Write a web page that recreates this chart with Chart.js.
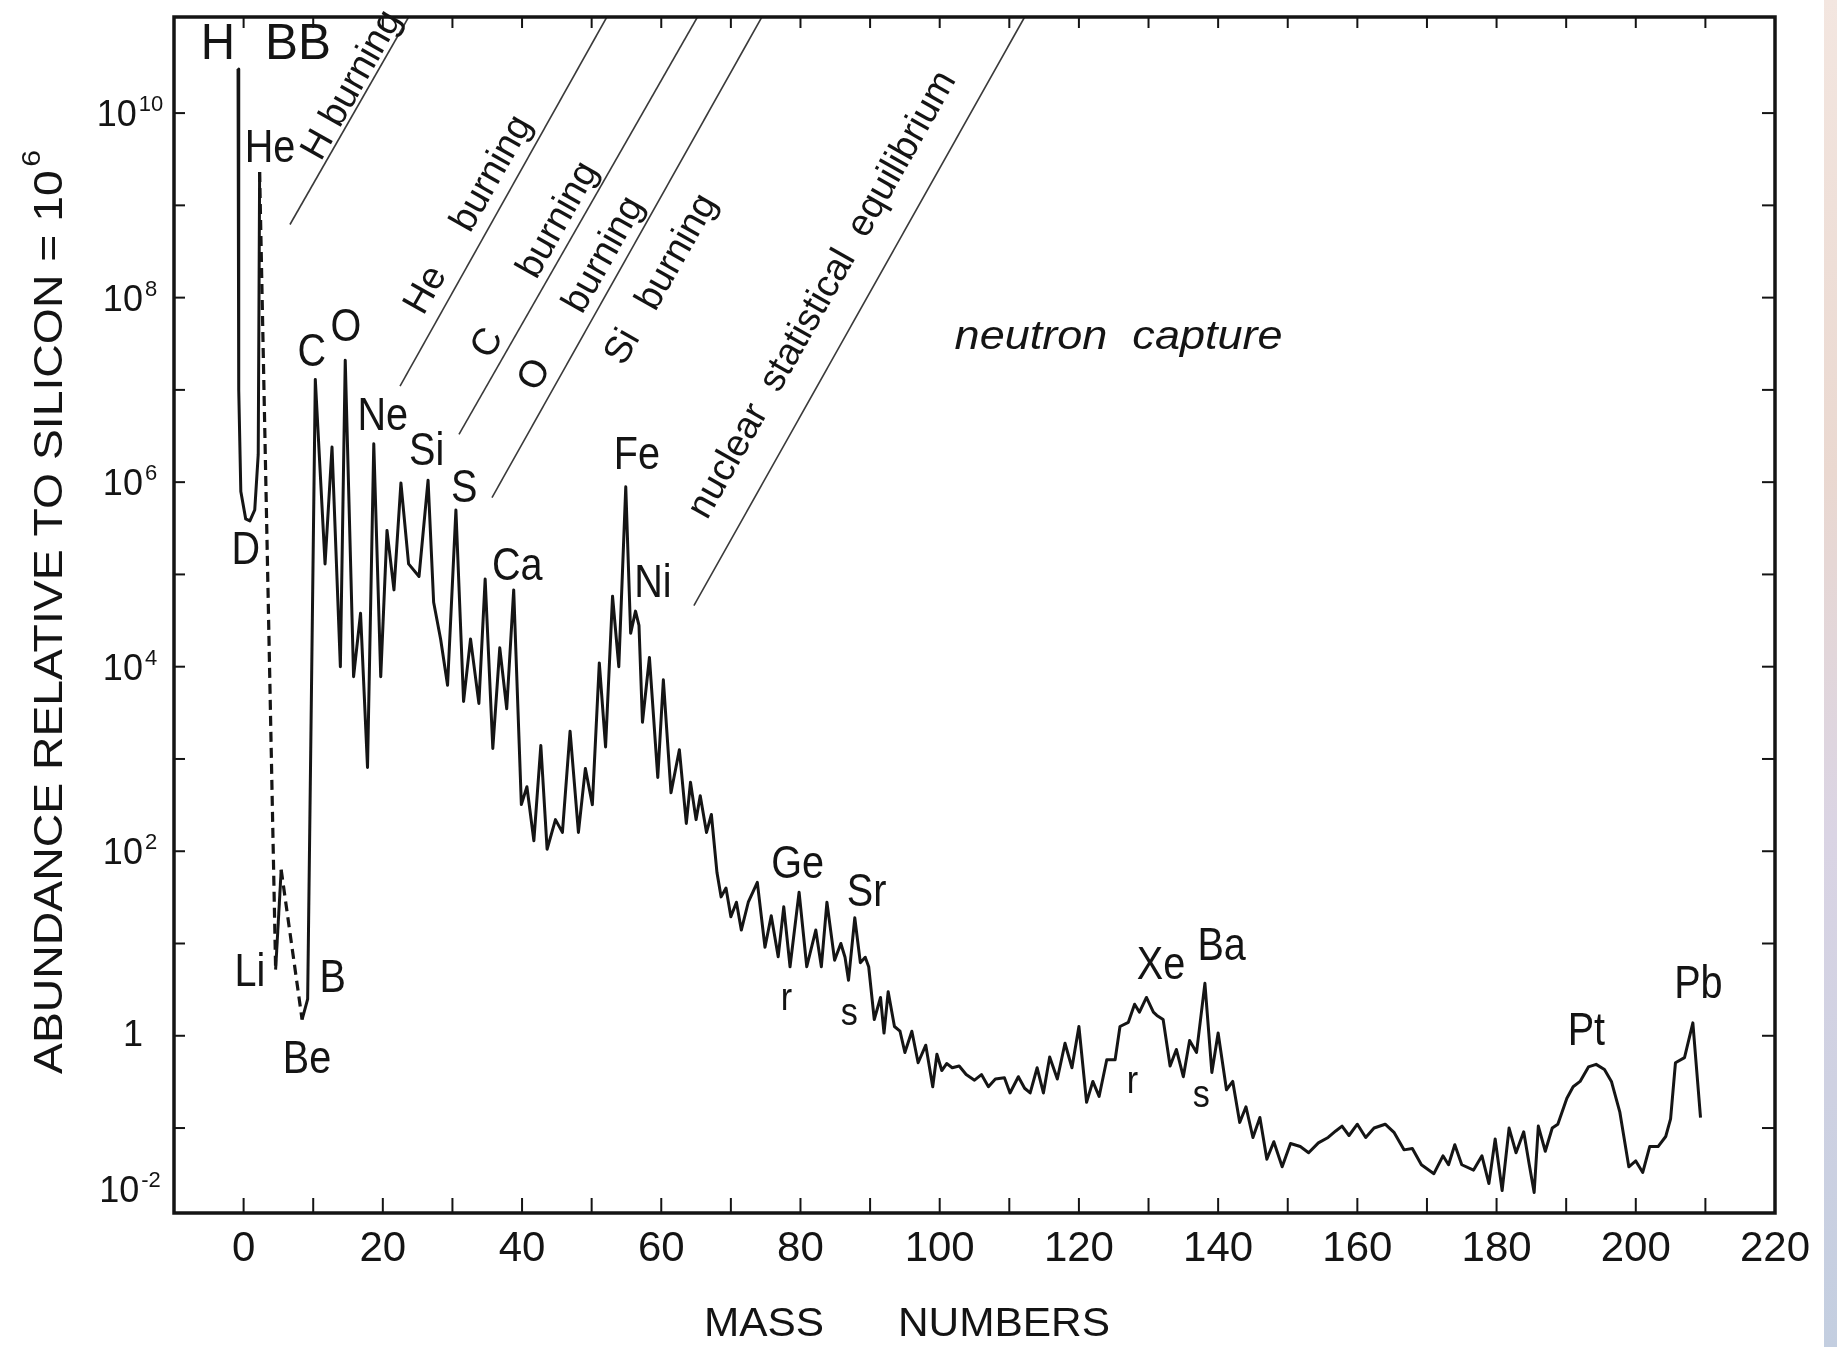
<!DOCTYPE html>
<html>
<head>
<meta charset="utf-8">
<script src="https://cdn.jsdelivr.net/npm/chart.js@4.4.1/dist/chart.umd.min.js"></script>
<style>
  html, body { margin: 0; padding: 0; background: #fff; }
  #wrap { position: relative; width: 1837px; height: 1347px; overflow: hidden; background: #fff; }
  #edge { position: absolute; left: 1824px; top: 0; width: 13px; height: 1347px;
          background: linear-gradient(#f3e6e0, #ead8d0 35%, #dad4e4 62%, #c3cee0); }
</style>
</head>
<body>
<div id="wrap">
  <canvas id="chart" width="1837" height="1347"></canvas>
  <div id="edge"></div>
</div>
<script>
// mass number (as placed in the figure) and abundance relative to Si = 1e6
const massNumbers = [
  -0.8, -0.7, -0.4, 0.3, 0.9, 1.6, 2.1, 2.3, 4.6, 5.4, 8.4, 9.2,
  10.3, 11.7, 12.7, 13.9, 14.6, 15.8, 16.8, 17.8, 18.7, 19.7, 20.6, 21.6, 22.6, 23.7, 25.2,
  26.5, 27.3, 28.3, 29.3, 30.5, 31.6, 32.6, 33.8, 34.7, 35.8, 36.8, 37.8, 38.8, 39.9, 40.7,
  41.7, 42.7, 43.6, 44.8, 45.8, 46.9, 48.1, 49.1, 50.1, 51.1, 52.0, 53.0, 53.9, 54.9, 55.6,
  56.3, 56.8, 57.3, 58.3, 59.5, 60.3, 61.4, 62.6, 63.6, 64.2, 65.0, 65.6, 66.5, 67.2, 68.0,
  68.6, 69.3, 70.0, 70.8, 71.5, 72.5, 73.8, 74.9, 75.8, 76.8, 77.6, 78.5, 79.8, 80.9, 82.2,
  83.0, 83.8, 84.9, 85.8, 86.4, 86.9, 87.8, 88.6, 89.3, 89.8, 90.6, 91.5, 92.0, 92.6, 93.5,
  94.3, 95.0, 96.0, 96.9, 98.0, 99.0, 99.6, 100.3, 101.0, 101.8, 102.8, 103.8, 105.0, 106.0,
  107.0, 108.0, 109.3, 110.1, 111.3, 112.2, 113.0, 114.0, 114.9, 115.8, 116.9, 118.0, 119.0,
  120.0, 121.1, 122.0, 122.9, 124.0, 125.2, 125.9, 127.1, 128.0, 128.7, 129.7, 130.7, 131.2,
  132.1, 133.1, 134.0, 135.0, 135.9, 136.9, 138.1, 139.1, 140.0, 141.2, 142.1, 143.1, 144.0,
  145.0, 146.0, 147.0, 148.0, 149.2, 150.4, 151.8, 153.0, 154.4, 155.8, 156.9, 157.8, 158.8,
  160.0, 161.2, 162.4, 164.0, 165.3, 166.7, 167.9, 169.2, 171.0, 172.3, 173.1, 174.0, 175.0,
  176.7, 177.9, 178.9, 179.8, 180.8, 181.8, 182.8, 183.9, 184.7, 185.4, 186.0, 187.0, 188.0,
  188.8, 190.1, 191.0, 192.0, 193.2, 194.3, 195.5, 196.5, 197.7, 199.0, 200.0, 201.0, 202.0,
  203.2, 204.3, 205.0, 205.7, 207.0, 208.2, 209.3
];
const abundances = [
  3.0e10, 1.0e7, 7.9e5, 4.0e5, 3.8e5, 5.0e5, 2.0e6, 2.3e9, 5.2, 63, 1.5, 2.5,
  1.3e7, 1.3e5, 2.4e6, 1.0e4, 2.1e7, 7.8e3, 3.8e4, 810, 2.6e6, 7.8e3, 3.0e5, 6.8e4, 9.8e5, 1.3e5, 9.5e4,
  1.05e6, 5.0e4, 2.0e4, 6.3e3, 5.0e5, 4.2e3, 2.0e4, 4.0e3, 8.9e4, 1.3e3, 1.6e4, 3.5e3, 6.8e4, 320, 500,
  130, 1.4e3, 105, 220, 160, 2.0e3, 160, 790, 320, 1.1e4, 1.35e3, 5.8e4, 1.0e4, 8.9e5, 2.3e4,
  4.0e4, 2.8e4, 2.5e3, 1.26e4, 630, 7.2e3, 430, 1.26e3, 200, 560, 220, 400, 160, 250, 59,
  32, 40, 19.5, 28, 14, 28, 46, 9.1, 20, 7.2, 25, 5.6, 36, 5.6, 14,
  5.6, 28, 6.6, 10, 7.1, 4.0, 19, 6.2, 7.1, 5.6, 1.5, 2.6, 1.07, 3.0, 1.26,
  1.12, 0.66, 1.12, 0.51, 0.79, 0.28, 0.63, 0.42, 0.5, 0.45, 0.47, 0.38, 0.33, 0.38,
  0.28, 0.34, 0.35, 0.24, 0.36, 0.27, 0.24, 0.45, 0.24, 0.59, 0.34, 0.83, 0.45,
  1.26, 0.19, 0.32, 0.22, 0.55, 0.55, 1.26, 1.4, 2.2, 1.8, 2.6, 1.8, 1.66,
  1.5, 0.47, 0.71, 0.36, 0.89, 0.66, 3.7, 0.40, 1.07, 0.26, 0.32, 0.115, 0.17,
  0.079, 0.13, 0.046, 0.071, 0.038, 0.068, 0.063, 0.054, 0.069, 0.079, 0.093, 0.105, 0.083,
  0.11, 0.079, 0.10, 0.11, 0.089, 0.058, 0.060, 0.040, 0.032, 0.050, 0.040, 0.066, 0.040,
  0.035, 0.050, 0.025, 0.076, 0.021, 0.10, 0.054, 0.091, 0.040, 0.020, 0.105, 0.056, 0.10,
  0.11, 0.21, 0.28, 0.32, 0.46, 0.49, 0.43, 0.32, 0.15, 0.038, 0.044, 0.033, 0.063,
  0.063, 0.081, 0.126, 0.51, 0.58, 1.38, 0.13
];
// stretches of the curve drawn dashed (He -> Li, Li -> Be)
const dashedSpans = [[2.3, 4.6], [5.4, 8.4]];

// axis ticks and labels
const xTickValues = [0, 10, 20, 30, 40, 50, 60, 70, 80, 90, 100, 110, 120, 130, 140, 150, 160, 170, 180, 190, 200, 210];
const xLabelValues = [0, 20, 40, 60, 80, 100, 120, 140, 160, 180, 200, 220];
const yTickExponents = [-1, 0, 1, 2, 3, 4, 5, 6, 7, 8, 9, 10];
const yLabelExponents = [10, 8, 6, 4, 2, 0, -2];

// burning-stage boundary lines (start point, they run up to the top of the frame)
const burnStartMass = [6.66, 22.47, 30.94, 35.68, 64.69];
const burnStartAbund = [6.2e8, 1.1e7, 3.3e6, 6.8e5, 4.6e4];
const burnEndMass = [23.71, 52.18, 65.2, 74.45, 112.2];

// rotated process labels
const processText = ['H burning', 'He', 'burning', 'C', 'burning', 'O', 'burning', 'Si', 'burning', 'nuclear  statistical  equilibrium'];
const processMass = [15.6, 26.2, 35.7, 35.1, 45.2, 41.9, 51.8, 54.5, 62.3, 83.2];
const processAbund = [2.0e10, 1.2e8, 2.2e9, 3.2e7, 6.9e8, 1.45e7, 2.9e8, 2.9e7, 3.1e8, 1.07e8];

// element labels
const elementLabels = ['H', 'BB', 'He', 'D', 'Li', 'Be', 'B', 'C', 'O', 'Ne', 'Si', 'S', 'Ca', 'Fe', 'Ni', 'Ge', 'Sr', 'r', 's', 'Xe', 'Ba', 'r', 's', 'Pt', 'Pb'];
const labelMass = [-3.7, 7.8, 3.8, 0.3, 0.9, 9.1, 12.8, 9.8, 14.7, 20.0, 26.3, 31.7, 39.3, 56.5, 58.8, 79.6, 89.5, 78.0, 87.0, 131.8, 140.5, 127.7, 137.6, 192.9, 209.0];
const labelAbund = [5.4e10, 5.5e10, 4.1e9, 1.8e5, 4.8, 0.54, 4.1, 2.5e7, 4.7e7, 5.0e6, 2.1e6, 8.3e5, 1.2e5, 1.9e6, 7.8e4, 71, 35, 2.5, 1.7, 5.6, 9.1, 0.31, 0.22, 1.1, 3.5];

const FONT = "'Liberation Sans', Arial, Helvetica, sans-serif";
const INK = '#141414';
const LINE_ANGLE = -60.5 * Math.PI / 180;

function inDashedSpan(a, b) {
  return dashedSpans.some(s => a >= s[0] - 1e-6 && b <= s[1] + 1e-6);
}

function drawText(ctx, text, x, y, size, opts) {
  opts = opts || {};
  ctx.save();
  ctx.translate(x, y);
  if (opts.angle) ctx.rotate(opts.angle);
  ctx.font = (opts.italic ? 'italic ' : '') + size + 'px ' + FONT;
  let sx = opts.sx || 1;
  if (opts.width) sx = opts.width / ctx.measureText(text).width;
  ctx.scale(sx, 1);
  ctx.textAlign = 'center';
  ctx.textBaseline = 'middle';
  ctx.fillStyle = INK;
  ctx.fillText(text, 0, 0);
  ctx.restore();
}

function seg(ctx, x1, y1, x2, y2) {
  ctx.beginPath();
  ctx.moveTo(x1, y1);
  ctx.lineTo(x2, y2);
  ctx.stroke();
}

const decorations = {
  id: 'decorations',
  afterDraw(chart) {
    const ctx = chart.ctx;
    const xs = chart.scales.x, ys = chart.scales.y, a = chart.chartArea;
    ctx.save();
    ctx.strokeStyle = INK;

    // inward tick marks on all four sides
    ctx.lineWidth = 2;
    xTickValues.forEach(v => {
      const px = xs.getPixelForValue(v);
      seg(ctx, px, a.bottom, px, a.bottom - 15);
      seg(ctx, px, a.top, px, a.top + 11);
    });
    yTickExponents.forEach(e => {
      const py = ys.getPixelForValue(Math.pow(10, e));
      seg(ctx, a.left, py, a.left + 11, py);
      seg(ctx, a.right, py, a.right - 13, py);
    });

    // frame
    ctx.lineWidth = 3.5;
    ctx.strokeRect(a.left, a.top, a.right - a.left, a.bottom - a.top);

    // x tick labels
    xLabelValues.forEach(v => {
      drawText(ctx, String(v), xs.getPixelForValue(v), a.bottom + 36, 42);
    });

    // y tick labels with superscript exponent
    ctx.fillStyle = INK;
    ctx.textBaseline = 'alphabetic';
    ctx.textAlign = 'left';
    yLabelExponents.forEach(e => {
      let py = ys.getPixelForValue(Math.pow(10, e));
      if (py > a.bottom) py = a.bottom - 24;
      if (e === 0) {
        drawText(ctx, '1', 133, py, 36);
        return;
      }
      ctx.font = '36px ' + FONT;
      const wb = ctx.measureText('10').width;
      ctx.font = '22px ' + FONT;
      const exp = String(e);
      const we = ctx.measureText(exp).width;
      const x0 = 130 - (wb + we + 2) / 2;
      ctx.font = '36px ' + FONT;
      ctx.fillText('10', x0, py + 13);
      ctx.font = '22px ' + FONT;
      ctx.fillText(exp, x0 + wb + 2, py - 2);
    });

    // axis titles
    ctx.save();
    ctx.translate(48, 612);
    ctx.rotate(-Math.PI / 2);
    const main = 'ABUNDANCE RELATIVE TO SILICON = 10';
    ctx.font = '40px ' + FONT;
    const wm = ctx.measureText(main).width;
    ctx.font = '26px ' + FONT;
    const ws = ctx.measureText('6').width;
    const total = wm + ws + 3;
    ctx.scale(924 / total, 1);
    ctx.textAlign = 'left';
    ctx.textBaseline = 'alphabetic';
    ctx.fillStyle = INK;
    ctx.font = '40px ' + FONT;
    ctx.fillText(main, -total / 2, 14);
    ctx.font = '26px ' + FONT;
    ctx.fillText('6', -total / 2 + wm + 3, -8);
    ctx.restore();

    drawText(ctx, 'MASS', 764, 1325, 40, { width: 120 });
    drawText(ctx, 'NUMBERS', 1004, 1325, 40, { width: 212 });

    // rotated process labels
    processText.forEach((t, i) => {
      const px = xs.getPixelForValue(processMass[i]);
      const py = ys.getPixelForValue(processAbund[i]);
      drawText(ctx, t, px, py, 38, { angle: LINE_ANGLE });
    });
    drawText(ctx, 'neutron  capture', xs.getPixelForValue(125.7), ys.getPixelForValue(3.7e7), 40, { italic: true, width: 328 });

    // element labels
    elementLabels.forEach((t, i) => {
      const px = xs.getPixelForValue(labelMass[i]);
      const py = ys.getPixelForValue(labelAbund[i]);
      if (t === 'r' || t === 's') drawText(ctx, t, px, py, 38, { sx: 0.9 });
      else if (t === 'H') drawText(ctx, t, px, py, 50, { sx: 0.95 });
      else if (t === 'BB') drawText(ctx, t, px, py, 50, { width: 66 });
      else drawText(ctx, t, px, py, 46, { sx: 0.86 });
    });
    ctx.restore();
  }
};

const datasets = [{
  data: massNumbers.map((m, i) => ({ x: m, y: abundances[i] })),
  borderColor: '#151515',
  borderWidth: 3,
  borderJoinStyle: 'round',
  pointRadius: 0,
  tension: 0,
  segment: {
    borderDash: c => inDashedSpan(c.p0.parsed.x, c.p1.parsed.x) ? [10, 6] : undefined,
    borderWidth: c => inDashedSpan(c.p0.parsed.x, c.p1.parsed.x) ? 3.2 : undefined
  }
}];
burnStartMass.forEach((m, i) => {
  datasets.push({
    data: [{ x: m, y: burnStartAbund[i] }, { x: burnEndMass[i], y: 1.1e11 }],
    borderColor: '#3a3a3a',
    borderWidth: 1.6,
    pointRadius: 0
  });
});

new Chart(document.getElementById('chart'), {
  type: 'line',
  data: { datasets: datasets },
  options: {
    responsive: false,
    animation: false,
    layout: { padding: { left: 174, top: 17, right: 62, bottom: 134 } },
    plugins: { legend: { display: false }, tooltip: { enabled: false } },
    scales: {
      x: { type: 'linear', min: -10, max: 220, display: false },
      y: { type: 'logarithmic', min: 0.012, max: 1.1e11, display: false }
    }
  },
  plugins: [decorations]
});
</script>
</body>
</html>
